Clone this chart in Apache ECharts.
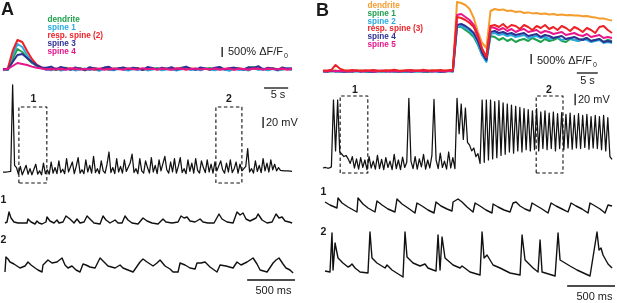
<!DOCTYPE html>
<html><head><meta charset="utf-8">
<script src="https://cdn.jsdelivr.net/npm/echarts@6/dist/echarts.min.js"></script>
<style>html,body{margin:0;padding:0;background:#fff}#c{width:617px;height:303px}</style>
</head><body><div id="c"></div>
<script>
// ---------------- DATA ----------------
// Panel A calcium traces (% dF/F0), sampled every 1 s from 0 to 60 s
const caA_dt = 1;
const caA_dendrite = [0,-40,500,1000,850,550,300,150,60,-20, 30,-50,20,60,-30,0,40,-60,10,50, -20,30,-40,20,0,60,-30,10,40,-50, 20,-10,50,-40,30,0,-20,60,80,-30, 20,-40,10,50,-20,30,0,-50,40,20, -30,60,100,-20,10,-40,30,0,-30,20, -10];
const caA_spine1 = [-60,-20,700,1250,1100,700,350,150,50,-40, -60,20,-80,-30,10,-70,-20,30,-50,-10, -90,20,-40,-60,10,-30,-80,0,-50,20, -70,-20,10,-60,-30,0,-80,-20,30,-50, -10,-70,20,-40,-60,0,-30,-90,10,-50, -20,-70,30,-40,-10,-60,0,-80,-30,10, -50];
const caA_resp2 = [-20,20,900,1450,1350,900,500,220,80,20, -20,30,-30,10,40,-20,20,-10,30,-40, 10,50,-20,0,30,-30,20,-10,40,-20, 10,30,-30,20,0,-20,40,10,-30,20, -10,30,0,-20,40,-30,10,20,-20,30, 0,-30,20,40,-10,0,30,-20,10,-30, 0];
const caA_spine3 = [0,-30,350,700,750,550,350,180,80,60, 120,-20,100,40,-40,80,20,-60,90,30, -20,70,110,-30,40,80,-10,60,20,-40, 100,50,-20,70,10,90,-30,40,120,20, -40,80,30,-20,60,100,-30,40,70,10, -20,90,50,140,-20,60,30,-40,80,20, 40];
const caA_spine4 = [-40,0,150,300,250,200,120,60,20,-30, 0,-20,20,-40,10,30,-20,0,-30,20, 10,-40,0,30,-10,-30,20,0,-20,40, -10,10,-30,20,0,-40,10,30,-20,0, 20,-30,10,-10,30,-20,0,20,-40,10, 0,-20,30,10,-30,20,0,-10,30,-20, 0];

// Panel A membrane potential (mV rel. baseline), sampled every 0.4 s
const vmA_dt = 0.4;
const vmA = [0,1,0,0,1,157,12,8,-4,10, -5,-2,12,-4,6,-5,-3,14,-4,2, -5,16,-3,4,-4,18,-2,8,-3,20,
 -1,5,-3,24,0,-2,18,-3,10,26, -2,4,-3,22,0,12,-2,28,-1,6, -3,20,2,-2,14,36,-1,8,-3,24,
 0,10,-2,22,1,-2,16,32,-1,6, -3,24,2,-2,20,8,-2,26,0,12, -3,22,2,-1,28,4,-2,18,0,24,
 -2,10,26,-1,6,-3,22,1,16,-2, 24,3,-2,20,8,-1,22,0,14,-2, 18,2,-1,20,4,-2,16,0,22,-1,
 6,18,-2,14,2,-1,10,42,0,6, -2,20,1,12,-1,24,2,16,0,22, 4,14,2,8,3,4,2,3,2,0, 1];

// Panel A expanded traces [ms, mV]
const vmA_1 = [[0,0],[21,0.5],[42,5.5],[63,2.5],[94,0.5],[136,0],[178,0],[230,0],[240,2],[272,0.5],[314,-0.5],[334,1],[355,0],[387,-0.5],[428,0.5],[439,3],[470,1],[512,0],[543,1.5],[564,0],[606,0.5],[637,3.5],[648,4.5],[679,2],[721,0],[752,2],[784,0],[826,0.5],[857,3.5],[888,2],[930,0],[993,-0.5],[1024,3.5],[1055,1.5],[1097,0],[1150,1.5],[1181,0],[1223,0],[1254,3.5],[1285,1.5],[1327,0],[1390,-0.5],[1442,2.5],[1484,1],[1536,0],[1599,-0.5],[1651,2],[1682,0.5],[1745,0],[1808,0.5],[1839,3.5],[1871,2.5],[1902,3],[1933,1],[1986,0.5],[2038,2],[2069,0.5],[2121,0],[2184,0],[2236,4.5],[2267,2],[2320,0.5],[2383,0],[2424,5.5],[2456,4],[2487,5],[2518,2],[2560,1],[2623,2.5],[2644,4.5],[2686,1.5],[2738,0],[2790,0.5],[2832,4.5],[2863,2.5],[2895,3],[2926,1],[2968,0.5],[3000,0]];
const vmA_2 = [[0,0],[10,7.5],[31,6.5],[52,5],[94,4],[125,3],[157,2],[209,3],[240,5],[272,3.5],[314,2],[345,1],[387,0],[397,3.5],[418,4.5],[449,6],[491,4.5],[543,5],[596,7],[627,3.5],[658,2],[700,3],[742,1],[784,0],[815,4],[846,3.5],[888,2.5],[941,2],[993,7],[1035,5],[1076,3],[1150,2],[1202,3.5],[1233,2],[1285,1],[1338,0],[1411,5],[1442,6.5],[1484,5],[1547,3],[1588,4.5],[1620,6],[1672,3],[1724,1.5],[1756,0],[1808,0],[1829,4.5],[1881,3.5],[1933,2],[1986,1.5],[2006,4.5],[2048,4.5],[2090,5],[2142,2.5],[2215,0],[2247,3.5],[2309,3],[2383,2],[2424,5],[2466,3.5],[2529,5],[2592,7],[2633,4],[2665,1],[2738,0],[2801,4.5],[2832,6],[2863,7],[2905,4],[2936,2],[2978,1],[3010,-0.5]];

// Panel B calcium traces (% dF/F0), every 1 s from 0 to 69 s
const caB_dt = 1;
const caB_dendrite = [0,-20,10,30,-10,20,0,-30,10,20, -20,0,30,-10,10,-20,20,0,-10,30, -20,10,0,20,-30,10,-10,20,0,-20, 10,30,
 3450,3400,3300,3100,2650,1950,1400,1150,3000,3100, 3050,3080,3000,3020,2950,2980,2900,2930,2880,2900, 2850,2870,2830,2850,2800,2820,2790,2800,2780,2770, 2740,2750,2700,2680,2620,2630,2570,2520];
const caB_spine1 = [-30,0,-20,10,-40,-10,0,-30,-10,10, -20,-40,0,-10,-30,10,-20,0,-40,-10, 10,-30,0,-20,-10,-40,0,10,-30,-10, 0,-20,
 2200,2200,2050,1900,1700,1300,800,500,1750,1700, 1550,1650,1500,1600,1450,1550,1600,1500,1650,1550, 1450,1600,1500,1550,1650,1500,1450,1600,1550,1500, 1600,1650,1500,1550,1600,1450,1550,1500];
const caB_spine2 = [-20,-40,0,-30,-10,-50,-20,0,-30,-40, -10,-20,-50,0,-30,-10,-40,-20,0,-30, -50,-10,-20,-40,0,-30,-20,-10,-40,-20, 0,-30,
 2200,2250,2150,2000,1800,1350,800,450,1850,1900, 1800,1850,1750,1800,1700,1750,1800,1650,1700,1750, 1650,1700,1600,1650,1700,1550,1600,1650,1550,1500, 1600,1550,1450,1500,1550,1400,1450,1400];
const caB_resp3 = [20,30,60,300,120,40,20,50,30,10, 40,20,50,30,0,40,20,60,30,10, 40,50,20,30,60,10,40,30,50,20, 40,60,
 2700,2650,2550,2400,2200,1700,1100,700,2250,2300, 2200,2350,2150,2300,2250,2100,2300,2200,2050,2250, 2150,2300,2100,2200,2050,2250,2150,2000,2200,2100, 1950,2150,2050,1900,2200,2250,2050,1900];
const caB_spine4 = [-10,-30,10,-20,0,-40,-10,-20,10,-30, 0,-20,-40,-10,0,-30,10,-20,-10,-30, 0,-40,-10,10,-20,-30,0,-10,-40,-20, 10,-10,
 2300,2350,2250,2100,1900,1500,900,550,1950,2000, 1900,1950,1850,1900,1800,1850,1900,1750,1800,1850, 1700,1800,1750,1650,1700,1750,1600,1650,1700,1600, 1550,1650,1500,1550,1600,1450,1500,1450];
const caB_spine5 = [0,-20,20,-10,10,-30,0,-10,20,-20, 0,10,-20,-10,20,0,-30,10,-10,0, 20,-20,10,0,-10,20,-30,0,10,-20, 0,10,
 2800,2850,2700,2550,2300,1800,1100,700,2200,2150, 2050,2150,2000,2100,1950,2050,2100,1950,2000,2050, 1900,2000,1950,1850,1900,1950,1800,1850,1900,1800, 1750,1850,1700,1750,1800,1650,1700,1650];

// Panel B membrane potential (mV rel. baseline), every 0.5 s
const vmB_dt = 0.5;
const vmB = [0,1,0,0,2,119,30,119,28,24, 20,22,16,8,20,0,16,-2,18,1, 14,-3,20,0,12,-2,22,-1,15,-3,
 18,1,12,-3,24,-1,14,-3,19,1, 10,122,12,-1,20,-2,16,2,24,-2, 14,0,22,120,14,-1,26,1,12,-2,
 28,0,18,-1,122,60,112,50,105,45, 40,30,35,20,25,8,119,10,119,14, 119,16,116,18,118,22,114,24,112,28,
 110,26,108,30,106,28,104,32,102,30, 100,32,104,30,98,34,100,32,96,34, 98,30,95,34,97,32,94,35,96,33,
 92,35,95,34,92,36,94,33,90,35, 92,34,90,32,92,30,88,20,15];

// Panel B expanded traces [ms, mV]
const vmB_1 = [[0,5.5],[52,4],[125,2.5],[136,7.5],[178,5],[240,3],[334,0.5],[345,7.5],[397,4.5],[449,2.5],[522,0.5],[543,6],[596,4],[658,2],[731,0.5],[752,7],[805,4.5],[867,2.5],[940,0],[961,5],[1014,3.5],[1076,1.5],[1139,0],[1160,5.5],[1212,3.5],[1275,2],[1327,1],[1338,5.5],[1390,7],[1432,5.5],[1484,3],[1547,0.5],[1568,5],[1620,3.5],[1682,1.5],[1745,0],[1756,4.5],[1808,3],[1871,1.5],[1933,0.5],[1965,5],[1996,5.5],[2038,3.5],[2090,2],[2142,1],[2163,5],[2215,3.5],[2268,2],[2330,0],[2362,5],[2414,3.5],[2477,2],[2539,0.5],[2571,5],[2623,3.5],[2686,2],[2748,0],[2769,5],[2822,3.5],[2874,2],[2926,0],[2957,4],[2999,3.5]];
const vmB_2 = [[0,3],[52,2.5],[73,22],[84,3.5],[105,17],[136,9.5],[188,7],[240,5],[261,5.5],[282,6.5],[314,4.5],[366,2.5],[449,2],[470,22.5],[491,9.5],[543,7],[627,4.5],[648,6],[700,3.5],[815,0],[836,22.5],[857,10],[920,7],[993,5.5],[1045,6.5],[1076,4.5],[1129,3.5],[1160,3],[1181,21],[1202,3.5],[1223,20],[1254,9.5],[1338,6],[1411,4.5],[1432,5.5],[1515,2.5],[1620,1],[1641,22.5],[1662,9.5],[1693,11],[1756,6],[1829,4.5],[1933,2],[2038,1],[2059,21],[2090,8.5],[2174,4.5],[2226,2.5],[2247,18.5],[2268,2.5],[2404,0.5],[2435,22],[2456,8.5],[2560,5.5],[2633,3.5],[2769,0.5],[2842,22.5],[2863,13.5],[2884,14.5],[2905,11],[2957,6.5],[2999,4.5]];

// Annotations (in data units): scale bars and dashed boxes
const scaleA_ca500 = [[45.5, 600], [45.5, 1100]];     // 500 % dF/F0
const scaleA_5s = [[54.2, -950], [59.2, -950]];        // 5 s
const scaleA_20mV = [[54.0, 79], [54.0, 99]];          // 20 mV
const scaleA_500ms = [[2530, -4], [3030, -4]];         // 500 ms
const boxA = [[3.3, 9.1], [44.2, 49.6]];               // time ranges (s)
const boxA_v = [-19.8, 117];
const scaleB_ca500 = [[49.7, 350], [49.7, 850]];
const scaleB_5s = [[60.6, -100], [65.6, -100]];
const scaleB_20mV = [[60.2, 110], [60.2, 130]];
const scaleB_500ms = [[2530, -4.5], [3030, -4.5]];
const boxB = [[4.1, 10.7], [50.9, 57.3]];
const boxB_v = [-8.75, 126];

const C = {green:'#1ea04c', cyan:'#29abe2', red:'#ec2227', navy:'#2e3192', mag:'#e8168b', orange:'#f59c2d', black:'#111111'};
const legendA = [['dendrite', C.green], ['spine 1', C.cyan], ['resp. spine (2)', C.red], ['spine 3', C.navy], ['spine 4', C.mag]];
const legendB = [['dendrite', C.orange], ['spine 1', C.green], ['spine 2', C.cyan], ['resp. spine (3)', C.red], ['spine 4', C.navy], ['spine 5', C.mag]];

// ---------------- CHART ----------------
const FONT = '"Liberation Sans", Arial, sans-serif';
const uni = (arr, dt) => arr.map((v, i) => [i * dt, v]);
const rect = (t, v) => [[t[0], v[0]], [t[0], v[1]], [t[1], v[1]], [t[1], v[0]], [t[0], v[0]]];

const grids = [
  {left:3, top:15, width:289, height:80, x:[0,60], y:[-1300,2700]},
  {left:3, top:78, width:289, height:107, x:[0,60], y:[-23.4,169.2]},
  {left:5, top:200, width:290, height:30, x:[0,3030], y:[-3.5,11.5]},
  {left:5, top:245, width:290, height:40, x:[0,3030], y:[-6.5,13.5]},
  {left:323, top:0, width:289, height:85, x:[0,69], y:[-700,3550]},
  {left:323, top:78, width:289, height:100, x:[0,69], y:[-17.5,157.5]},
  {left:325, top:190, width:290, height:30, x:[0,3030], y:[-3.5,11.5]},
  {left:325, top:225, width:290, height:65, x:[0,3030], y:[-6.5,26]}
];

function L(g, data, color, width, dash, z) {
  return {type:'line', xAxisIndex:g, yAxisIndex:g, data:data, symbol:'none', showSymbol:false,
    clip:false, silent:true, animation:false, z:z||2,
    lineStyle:{color:color, width:width, type: dash ? [3.5,2.5] : 'solid', join:'round', cap:'butt'}};
}

const series = [
  L(0, uni(caA_dendrite, caA_dt), C.green, 2),
  L(0, uni(caA_spine1, caA_dt), C.cyan, 2),
  L(0, uni(caA_resp2, caA_dt), C.red, 2),
  L(0, uni(caA_spine3, caA_dt), C.navy, 2),
  L(0, uni(caA_spine4, caA_dt), C.mag, 2),
  L(0, scaleA_ca500, C.black, 1.3),
  L(0, scaleA_5s, C.black, 1.3),
  L(1, uni(vmA, vmA_dt), C.black, 1.25),
  L(1, scaleA_20mV, C.black, 1.3),
  L(1, rect(boxA[0], boxA_v), C.black, 1.1, true),
  L(1, rect(boxA[1], boxA_v), C.black, 1.1, true),
  L(2, vmA_1, C.black, 1.4),
  L(3, vmA_2, C.black, 1.4),
  L(3, scaleA_500ms, C.black, 1.3),
  L(4, uni(caB_dendrite, caB_dt), C.orange, 2),
  L(4, uni(caB_spine1, caB_dt), C.green, 2),
  L(4, uni(caB_spine2, caB_dt), C.cyan, 2),
  L(4, uni(caB_spine4, caB_dt), C.navy, 2),
  L(4, uni(caB_spine5, caB_dt), C.mag, 2),
  L(4, uni(caB_resp3, caB_dt), C.red, 2),
  L(4, scaleB_ca500, C.black, 1.3),
  L(4, scaleB_5s, C.black, 1.3),
  L(5, uni(vmB, vmB_dt), C.black, 1.25),
  L(5, scaleB_20mV, C.black, 1.3),
  L(5, rect(boxB[0], boxB_v), C.black, 1.1, true),
  L(5, rect(boxB[1], boxB_v), C.black, 1.1, true),
  L(6, vmB_1, C.black, 1.4),
  L(7, vmB_2, C.black, 1.4),
  L(7, scaleB_500ms, C.black, 1.3)
];

function T(x, y, text, size, opts) {
  opts = opts || {};
  return {type:'text', x:x, y:y, silent:true, z:10, style:{text:text, fill:opts.color||'#1a1a1a',
    font:(opts.bold?'bold ':'') + size + 'px ' + FONT,
    textAlign:opts.align||'left', align:opts.align||'left', textVerticalAlign:'middle', verticalAlign:'middle'}};
}

const graphics = [
  T(1, 10, 'A', 18, {bold:true}),
  T(316, 11, 'B', 18, {bold:true}),
  T(228, 52, '500% \u0394F/F', 11), T(284, 56, '0', 7),
  T(537, 61, '500% \u0394F/F', 11), T(593, 65, '0', 7),
  T(278, 95, '5 s', 11, {align:'center'}),
  T(587.5, 80.5, '5 s', 11, {align:'center'}),
  T(266, 123, '20 mV', 11),
  T(578, 100, '20 mV', 11),
  T(33.5, 99.5, '1', 10.5, {bold:true, align:'center'}),
  T(229, 99.5, '2', 10.5, {bold:true, align:'center'}),
  T(355, 90, '1', 10.5, {bold:true, align:'center'}),
  T(549, 90, '2', 10.5, {bold:true, align:'center'}),
  T(0.5, 200, '1', 10.5, {bold:true}),
  T(0.5, 240, '2', 10.5, {bold:true}),
  T(320.5, 192, '1', 10.5, {bold:true}),
  T(320.5, 232, '2', 10.5, {bold:true}),
  T(273.5, 291, '500 ms', 11, {align:'center'}),
  T(594.5, 296.5, '500 ms', 11, {align:'center'})
];
legendA.forEach((d, i) => graphics.push(T(47.5, 19.7 + i * 8, d[0], 8.2, {bold:true, color:d[1]})));
legendB.forEach((d, i) => graphics.push(T(367.5, 6 + i * 7.7, d[0], 8.2, {bold:true, color:d[1]})));

const chart = echarts.init(document.getElementById('c'), null, {renderer:'canvas'});
chart.setOption({
  animation:false,
  backgroundColor:'#ffffff',
  grid: grids.map(g => ({left:g.left, top:g.top, width:g.width, height:g.height, containLabel:false, outerBoundsMode:'none'})),
  xAxis: grids.map((g, i) => ({type:'value', gridIndex:i, min:g.x[0], max:g.x[1], show:false})),
  yAxis: grids.map((g, i) => ({type:'value', gridIndex:i, min:g.y[0], max:g.y[1], show:false})),
  series: series,
  graphic: graphics
});
</script>
</body></html>
